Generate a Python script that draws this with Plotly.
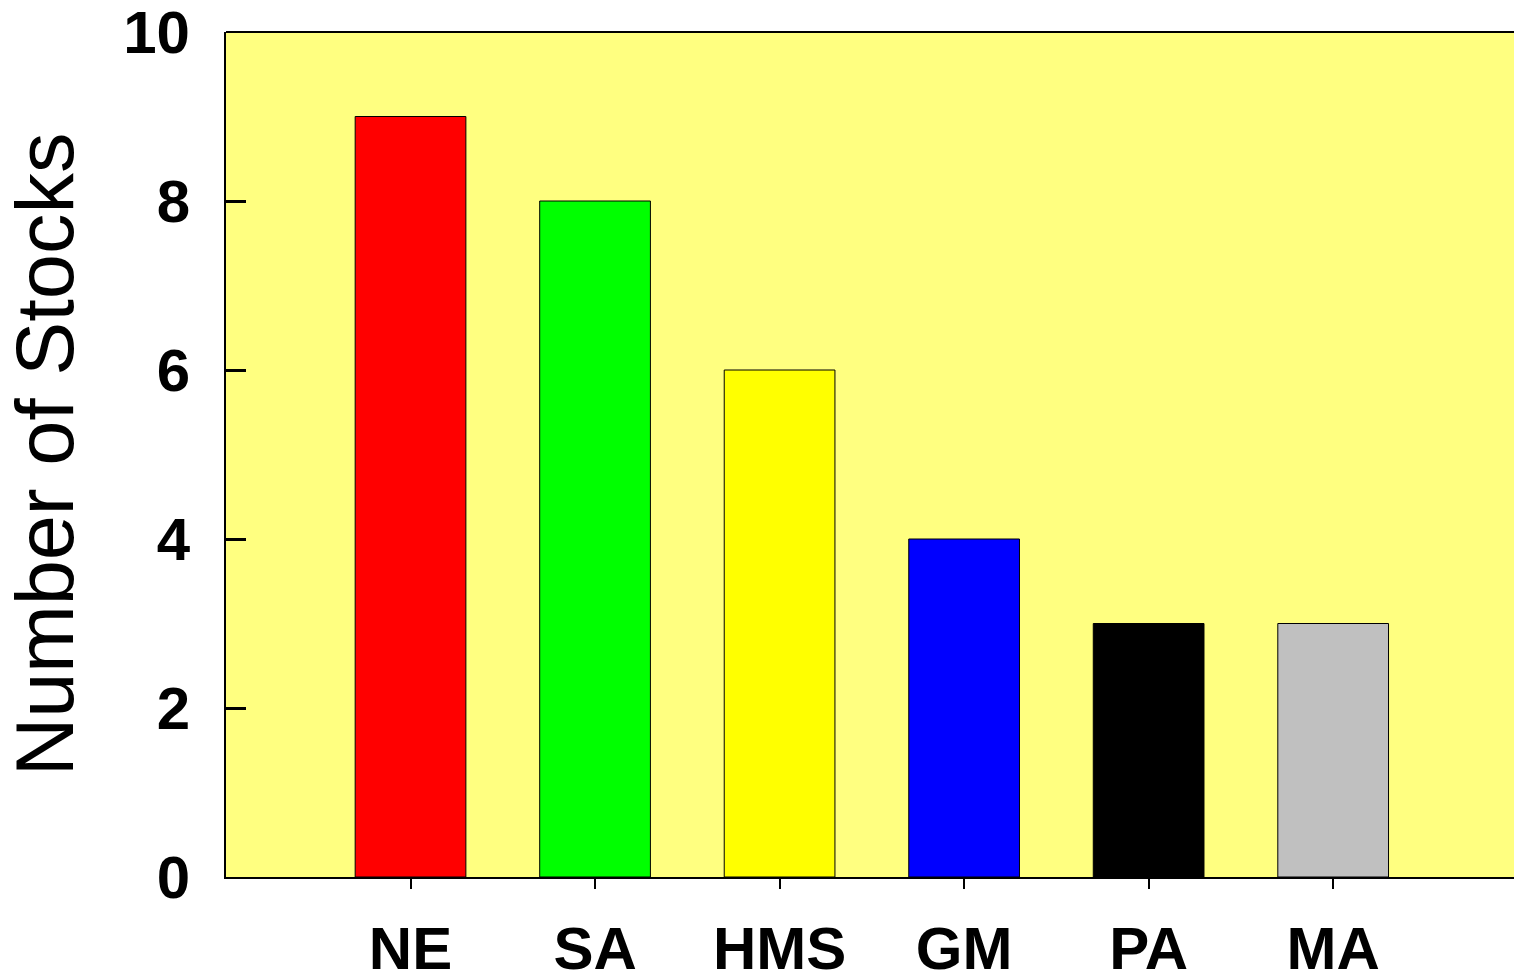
import plotly.graph_objects as go

categories = ["NE", "SA", "HMS", "GM", "PA", "MA"]
values = [9, 8, 6, 4, 3, 3]
bar_colors = ["#FF0000", "#00FF00", "#FFFF00", "#0000FF", "#000000", "#C0C0C0"]
y_ticks = [0, 2, 4, 6, 8, 10]

FONT = "Liberation Sans, Arial, sans-serif"

fig = go.Figure()
fig.add_trace(go.Bar(
    x=categories, y=values,
    marker=dict(color=bar_colors, line=dict(color="black", width=1)),
    width=0.6,
))

fig.update_layout(
    width=1514, height=975,
    margin=dict(l=226, r=0, t=32, b=98, autoexpand=False),
    paper_bgcolor="white",
    plot_bgcolor="#FFFF80",
    showlegend=False,
    font=dict(family=FONT, color="black"),
)

fig.update_xaxes(
    type="category",
    range=[-1, 5.98],
    automargin=False,
    showline=True, linecolor="black", linewidth=2,
    ticks="outside", ticklen=10, tickwidth=2, tickcolor="black",
    tickfont=dict(size=60, weight="bold", family=FONT),
    ticklabelstandoff=8,
    showgrid=False, zeroline=False,
)

fig.update_yaxes(
    range=[0, 10],
    automargin=False,
    tickvals=y_ticks,
    ticktext=[str(v) for v in y_ticks],
    showline=True, linecolor="black", linewidth=2,
    ticks="inside", ticklen=20, tickwidth=3, tickcolor="black",
    tickfont=dict(size=60, weight="bold", family=FONT),
    ticklabelstandoff=22,
    ticklabeloverflow="allow",
    showgrid=False, zeroline=False,
    title=dict(text="Number of Stocks", font=dict(size=81, family=FONT), standoff=60),
)

fig.add_shape(type="line", xref="paper", yref="paper", x0=0, x1=1, y0=1, y1=1,
              line=dict(color="black", width=2))

fig.write_html(
    "out.html",
    config={"displayModeBar": False},
    post_script="document.body.style.margin='0';document.body.style.overflow='hidden';",
)
